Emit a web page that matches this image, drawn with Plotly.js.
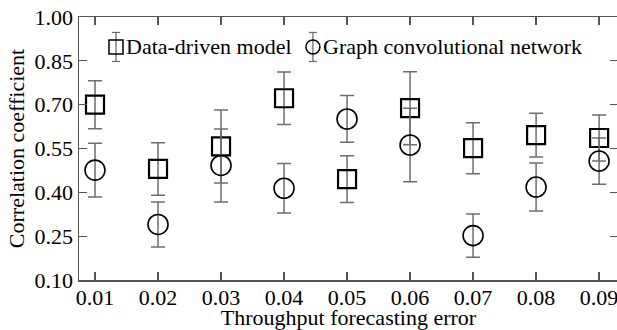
<!DOCTYPE html>
<html>
<head>
<meta charset="utf-8">
<script src="https://cdn.plot.ly/plotly-3.0.1.min.js"></script>
<style>
html,body{margin:0;padding:0;overflow:hidden;background:#fff;}
#chart{width:620px;height:330px;}
</style>
</head>
<body>
<div id="chart"></div>
<script>
// Throughput forecasting error (x categories)
var forecastError = [0.01, 0.02, 0.03, 0.04, 0.05, 0.06, 0.07, 0.08, 0.09];
// Data-driven model: correlation coefficient and error half-width
var dataDrivenMean = [0.700, 0.480, 0.557, 0.722, 0.445, 0.688, 0.551, 0.596, 0.586];
var dataDrivenErr  = [0.082, 0.090, 0.125, 0.090, 0.080, 0.125, 0.087, 0.075, 0.079];
// Graph convolutional network
var gcnMean = [0.476, 0.290, 0.492, 0.414, 0.651, 0.562, 0.252, 0.418, 0.507];
var gcnErr  = [0.092, 0.077, 0.125, 0.085, 0.080, 0.126, 0.074, 0.082, 0.079];
// Tick labels
var xTickVals = [0.01, 0.02, 0.03, 0.04, 0.05, 0.06, 0.07, 0.08, 0.09];
var xTickText = ['0.01', '0.02', '0.03', '0.04', '0.05', '0.06', '0.07', '0.08', '0.09'];
var yTickVals = [0.10, 0.25, 0.40, 0.55, 0.70, 0.85, 1.00];
var yTickText = ['0.10', '0.25', '0.40', '0.55', '0.70', '0.85', '1.00'];
var seriesNames = ['Data-driven model', 'Graph convolutional network'];

var FONT = 'Times New Roman, Liberation Serif, DejaVu Serif, serif';
var errColor = '#6e6e6e';

var traces = [
  {
    type: 'scatter', mode: 'markers', name: seriesNames[0],
    x: forecastError, y: dataDrivenMean,
    error_y: {type: 'data', array: dataDrivenErr, symmetric: true, color: errColor, thickness: 1.5, width: 7},
    marker: {symbol: 'square-open', size: 18, color: '#000', line: {width: 2.2, color: '#000'}},
    showlegend: false
  },
  {
    type: 'scatter', mode: 'markers', name: seriesNames[1],
    x: forecastError, y: gcnMean,
    error_y: {type: 'data', array: gcnErr, symmetric: true, color: errColor, thickness: 1.5, width: 7},
    marker: {symbol: 'circle-open', size: 20, color: '#000', line: {width: 1.6, color: '#000'}},
    showlegend: false
  }
];

// manual legend glyphs (paper coords, pixel-sized)
var lg1x = 0.0686, lg2x = 0.434, lgy = 0.886;
function errGlyph(xa) {
  return [
    {type: 'line', xref: 'paper', yref: 'paper', xsizemode: 'pixel', ysizemode: 'pixel', xanchor: xa, yanchor: lgy,
     x0: 0, x1: 0, y0: -14.5, y1: 14.5, line: {color: errColor, width: 1.3}},
    {type: 'line', xref: 'paper', yref: 'paper', xsizemode: 'pixel', ysizemode: 'pixel', xanchor: xa, yanchor: lgy,
     x0: -4, x1: 4, y0: 14.5, y1: 14.5, line: {color: errColor, width: 1.3}},
    {type: 'line', xref: 'paper', yref: 'paper', xsizemode: 'pixel', ysizemode: 'pixel', xanchor: xa, yanchor: lgy,
     x0: -4, x1: 4, y0: -14.5, y1: -14.5, line: {color: errColor, width: 1.3}}
  ];
}
var shapes = [].concat(
  errGlyph(lg1x),
  [{type: 'rect', xref: 'paper', yref: 'paper', xsizemode: 'pixel', ysizemode: 'pixel', xanchor: lg1x, yanchor: lgy,
    x0: -7, x1: 7, y0: -7, y1: 7, line: {color: '#000', width: 1.5}}],
  errGlyph(lg2x),
  [{type: 'circle', xref: 'paper', yref: 'paper', xsizemode: 'pixel', ysizemode: 'pixel', xanchor: lg2x, yanchor: lgy,
    x0: -7, x1: 7, y0: -7, y1: 7, line: {color: '#000', width: 1.5}}]
);

var annotations = [
  {text: seriesNames[0], xref: 'paper', yref: 'paper', x: 0.0872, y: lgy, xanchor: 'left', yanchor: 'middle',
   showarrow: false, borderpad: 0, xshift: -1, font: {family: FONT, size: 22, color: '#000'}},
  {text: seriesNames[1], xref: 'paper', yref: 'paper', x: 0.4527, y: lgy, xanchor: 'left', yanchor: 'middle',
   showarrow: false, borderpad: 0, xshift: -1, font: {family: FONT, size: 22, color: '#000'}}
];

var layout = {
  width: 620, height: 330,
  margin: {l: 79, r: 2, t: 17, b: 50, pad: 0},
  paper_bgcolor: '#fff', plot_bgcolor: '#fff',
  font: {family: FONT, size: 22, color: '#000'},
  showlegend: false,
  xaxis: {
    range: [0.00746, 0.0930], tickvals: xTickVals, ticktext: xTickText,
    ticks: 'inside', ticklen: 8, tickwidth: 1.3, tickcolor: '#555',
    showline: true, linecolor: '#555', linewidth: 1.5, mirror: 'ticks',
    showgrid: false, zeroline: false, ticklabelstandoff: -3,
    tickfont: {family: FONT, size: 22, color: '#000'},
    title: {text: 'Throughput forecasting error', font: {family: FONT, size: 22, color: '#000'}, standoff: 0}
  },
  yaxis: {
    range: [0.10, 1.00], tickvals: yTickVals, ticktext: yTickText,
    ticks: 'inside', ticklen: 8, tickwidth: 1.3, tickcolor: '#555',
    showline: true, linecolor: '#555', linewidth: 1.5, mirror: 'ticks',
    showgrid: false, zeroline: false,
    tickfont: {family: FONT, size: 22, color: '#000'},
    title: {text: 'Correlation coefficient', font: {family: FONT, size: 22, color: '#000'}, standoff: 4}
  },
  shapes: shapes,
  annotations: annotations
};

Plotly.newPlot('chart', traces, layout, {displayModeBar: false, staticPlot: true});
</script>
</body>
</html>
